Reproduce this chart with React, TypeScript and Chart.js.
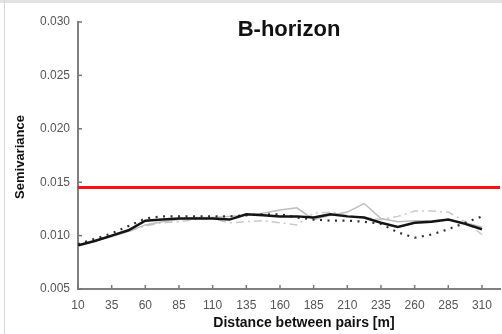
import React, { useEffect, useRef } from "react";
import { Chart, registerables } from "chart.js";

Chart.register(...registerables);

const TITLE = "B-horizon";
const X_TITLE = "Distance between pairs [m]";
const Y_TITLE = "Semivariance";

const lags = [10, 22.5, 35, 47.5, 60, 72.5, 85, 97.5, 110, 122.5, 135, 147.5, 160, 172.5, 185, 197.5, 210, 222.5, 235, 247.5, 260, 272.5, 285, 297.5, 310];

const blackSolid = [0.0091, 0.0095, 0.0100, 0.0105, 0.0114, 0.0115, 0.0116, 0.0116, 0.0116, 0.0115, 0.0120, 0.0119, 0.0118, 0.0118, 0.0117, 0.0120, 0.0118, 0.0117, 0.0112, 0.0108, 0.0112, 0.0113, 0.0115, 0.0111, 0.0106];
const blackDotted = [0.0092, 0.0097, 0.0102, 0.0109, 0.0116, 0.0118, 0.0118, 0.0118, 0.0118, 0.0118, 0.0119, 0.0120, 0.0120, 0.0117, 0.0115, 0.0114, 0.0114, 0.0113, 0.0111, 0.0103, 0.0098, 0.0101, 0.0106, 0.0112, 0.0118];
const graySolid = [0.0090, 0.0095, 0.0099, 0.0104, 0.0110, 0.0113, 0.0115, 0.0117, 0.0117, 0.0118, 0.0119, 0.0121, 0.0124, 0.0126, 0.0115, 0.0119, 0.0122, 0.0130, 0.0116, 0.0113, 0.0114, 0.0114, 0.0115, 0.0112, 0.0108];
const grayDashDot = [0.0090, 0.0096, 0.0100, 0.0104, 0.0109, 0.0112, 0.0113, 0.0115, 0.0116, 0.0112, 0.0113, 0.0114, 0.0112, 0.0110, 0.0121, 0.0122, 0.0119, 0.0117, 0.0115, 0.0118, 0.0123, 0.0123, 0.0122, 0.0113, 0.0101];

const thresholdValue = 0.0145;
const xTicks = [10, 35, 60, 85, 110, 135, 160, 185, 210, 235, 260, 285, 310];
const yTicks = [0.005, 0.010, 0.015, 0.020, 0.025, 0.030];
const X_MIN = 10;
const X_MAX = 323.4;

const FONT = '"Liberation Sans", Arial, sans-serif';

const toPoints = (ys: number[]) => ys.map((y, i) => ({ x: lags[i], y }));

const decoPlugin = {
  id: "deco",
  afterDraw(chart: any) {
    const ctx = chart.ctx;
    const xs = chart.scales.x;
    const ys = chart.scales.y;
    const area = chart.chartArea;
    ctx.save();
    ctx.strokeStyle = "#777";
    ctx.lineWidth = 1.5;
    xs.ticks.forEach((t: any) => {
      const px = xs.getPixelForValue(t.value);
      ctx.beginPath();
      ctx.moveTo(px, area.bottom);
      ctx.lineTo(px, area.bottom - 4);
      ctx.stroke();
    });
    ys.ticks.forEach((t: any) => {
      const py = ys.getPixelForValue(t.value);
      ctx.beginPath();
      ctx.moveTo(area.left, py);
      ctx.lineTo(area.left + 4, py);
      ctx.stroke();
    });
    ctx.fillStyle = "#111";
    ctx.textAlign = "center";
    ctx.textBaseline = "middle";
    ctx.font = `bold 22px ${FONT}`;
    ctx.fillText(TITLE, (area.left + area.right) / 2, 30);
    ctx.font = `bold 14px ${FONT}`;
    ctx.fillText(X_TITLE, (area.left + area.right) / 2 + 15, 323);
    ctx.translate(20, 157);
    ctx.rotate(-Math.PI / 2);
    ctx.font = `bold 13px ${FONT}`;
    ctx.fillText(Y_TITLE, 0, 0);
    ctx.restore();
  },
};

export default function App() {
  const ref = useRef<HTMLCanvasElement | null>(null);
  useEffect(() => {
    if (!ref.current) return;
    const chart = new Chart(ref.current, {
      type: "line",
      data: {
        datasets: [
          {
            data: [{ x: X_MIN, y: thresholdValue }, { x: X_MAX, y: thresholdValue }],
            borderColor: "#ff1010",
            borderWidth: 3,
            pointRadius: 0,
          },
          {
            data: toPoints(blackSolid),
            borderColor: "#141414",
            borderWidth: 2.5,
            pointRadius: 0,
          },
          {
            data: toPoints(blackDotted),
            borderColor: "#333",
            borderWidth: 2.2,
            borderDash: [2, 5.5],
            pointRadius: 0,
          },
          {
            data: toPoints(graySolid),
            borderColor: "#bdbdbd",
            borderWidth: 1.5,
            pointRadius: 0,
          },
          {
            data: toPoints(grayDashDot),
            borderColor: "#c9c9c9",
            borderWidth: 1.5,
            borderDash: [8, 4, 2, 4],
            pointRadius: 0,
          },
        ],
      },
      options: {
        responsive: false,
        animation: false,
        layout: { padding: { left: 0, top: 22, right: 2, bottom: 0 } },
        plugins: { legend: { display: false }, tooltip: { enabled: false }, title: { display: false } },
        scales: {
          x: {
            type: "linear",
            min: X_MIN,
            max: X_MAX,
            afterBuildTicks: (s: any) => {
              s.ticks = xTicks.map((v) => ({ value: v }));
            },
            afterFit: (s: any) => {
              s.height = 45;
            },
            grid: { display: false, drawTicks: false },
            border: { display: true, color: "#808080", width: 2 },
            ticks: {
              padding: 9,
              color: "#555",
              font: { family: FONT, size: 12 },
              maxRotation: 0,
              autoSkip: false,
              callback: (v: any) => String(v),
            },
          },
          y: {
            type: "linear",
            min: 0.005,
            max: 0.03,
            afterBuildTicks: (s: any) => {
              s.ticks = yTicks.map((v) => ({ value: v }));
            },
            afterFit: (s: any) => {
              s.width = 78;
            },
            grid: { display: false, drawTicks: false },
            border: { display: true, color: "#808080", width: 2 },
            ticks: {
              padding: 8,
              color: "#555",
              font: { family: FONT, size: 12 },
              callback: (v: any) => Number(v).toFixed(3),
            },
          },
        },
      },
      plugins: [decoPlugin],
    });
    return () => chart.destroy();
  }, []);

  return (
    <div style={{ position: "absolute", left: 0, top: 0, width: 502, height: 334, background: "#fff" }}>
      <div style={{ position: "absolute", left: 0, top: 0, width: 502, height: 3, background: "#e2e2e2" }} />
      <div style={{ position: "absolute", left: 4, top: 0, width: 1, height: 334, background: "#d6d6d6" }} />
      <canvas ref={ref} width={502} height={334} style={{ position: "absolute", left: 0, top: 0, display: "block" }} />
    </div>
  );
}
